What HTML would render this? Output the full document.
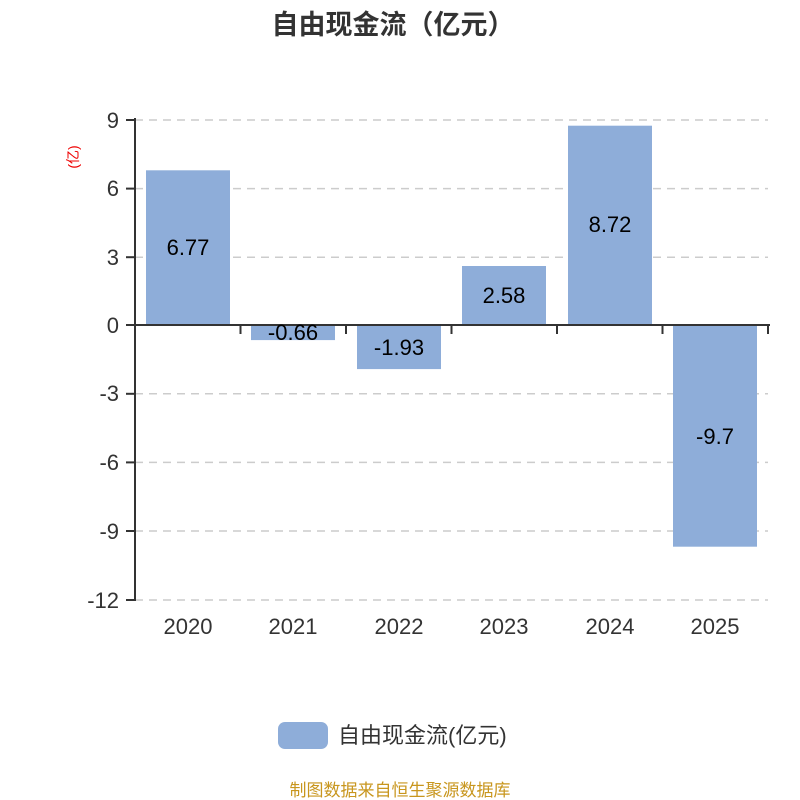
<!DOCTYPE html>
<html><head><meta charset="utf-8"><style>body{margin:0;background:#fff}svg{display:block}</style></head>
<body>
<svg width="800" height="800" xmlns="http://www.w3.org/2000/svg" font-family="'Liberation Sans','Noto Sans CJK SC',sans-serif">
<text x="393" y="34" text-anchor="middle" font-size="27" font-weight="bold" fill="#333">自由现金流（亿元）</text>
<text transform="translate(78,157) rotate(-90)" text-anchor="middle" font-size="14" fill="#e00">(亿)</text>
<g stroke="#ccc" stroke-dasharray="8,6" stroke-width="1.5">
<line x1="135" y1="120" x2="768" y2="120"/><line x1="135" y1="188.6" x2="768" y2="188.6"/><line x1="135" y1="257.2" x2="768" y2="257.2"/>
<line x1="135" y1="393.8" x2="768" y2="393.8"/><line x1="135" y1="462.4" x2="768" y2="462.4"/><line x1="135" y1="531" x2="768" y2="531"/><line x1="135" y1="600" x2="768" y2="600"/>
</g>
<g fill="#8eadd9">
<rect x="146" y="170.3" width="84" height="154.7"/>
<rect x="251" y="325" width="84" height="15.1"/>
<rect x="357" y="325" width="84" height="44.1"/>
<rect x="462" y="266" width="84" height="59"/>
<rect x="568" y="125.7" width="84" height="199.3"/>
<rect x="673" y="325" width="84" height="221.7"/>
</g>
<g stroke="#333" stroke-width="2">
<line x1="135" y1="118" x2="135" y2="601"/>
<line x1="134" y1="325" x2="770" y2="325"/>
<line x1="126" y1="120" x2="135" y2="120"/><line x1="126" y1="188.6" x2="135" y2="188.6"/><line x1="126" y1="257.2" x2="135" y2="257.2"/><line x1="126" y1="325" x2="135" y2="325"/><line x1="126" y1="393.8" x2="135" y2="393.8"/><line x1="126" y1="462.4" x2="135" y2="462.4"/><line x1="126" y1="531" x2="135" y2="531"/><line x1="126" y1="600" x2="135" y2="600"/>
<line x1="240.5" y1="325" x2="240.5" y2="334"/><line x1="346" y1="325" x2="346" y2="334"/><line x1="451.5" y1="325" x2="451.5" y2="334"/><line x1="557" y1="325" x2="557" y2="334"/><line x1="662.5" y1="325" x2="662.5" y2="334"/><line x1="768" y1="325" x2="768" y2="334"/>
</g>
<g font-size="22" fill="#333" text-anchor="end">
<text x="119" y="128">9</text><text x="119" y="196">6</text><text x="119" y="265">3</text><text x="119" y="333">0</text><text x="119" y="401">-3</text><text x="119" y="470">-6</text><text x="119" y="539">-9</text><text x="119" y="608">-12</text>
</g>
<g font-size="22" fill="#333" text-anchor="middle">
<text x="188" y="634">2020</text><text x="293" y="634">2021</text><text x="399" y="634">2022</text><text x="504" y="634">2023</text><text x="610" y="634">2024</text><text x="715" y="634">2025</text>
</g>
<g font-size="22" fill="#000" text-anchor="middle">
<text x="188" y="255">6.77</text><text x="293" y="340">-0.66</text><text x="399" y="355">-1.93</text><text x="504" y="303">2.58</text><text x="610" y="232">8.72</text><text x="715" y="444">-9.7</text>
</g>
<rect x="278" y="722" width="50" height="27" rx="7" fill="#8eadd9"/>
<text x="338" y="743" font-size="22" fill="#333">自由现金流(亿元)</text>
<text x="400" y="796" text-anchor="middle" font-size="17" fill="#c8961e">制图数据来自恒生聚源数据库</text>
</svg>
</body></html>
